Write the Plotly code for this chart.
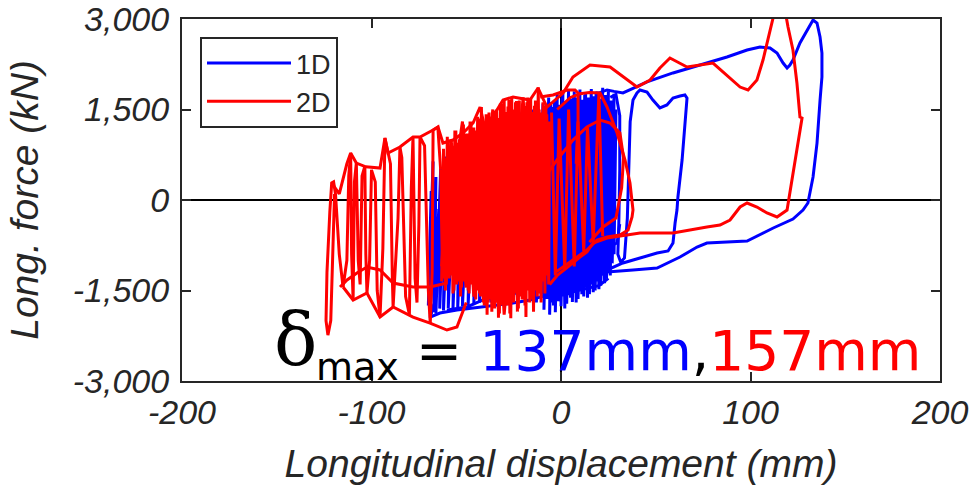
import plotly.graph_objects as go

# Longitudinal force vs. longitudinal displacement of the bearing (mm, kN)
# Each segment is a list of (displacement, force) samples along the response path.

# ---- 1D excitation ----
blue_core = [
    (-66, -1600), (-69, -1950), (-68.5, 150), (-70, -1750), (-67.5, 640), (-69, -1900),
    (-66, 380), (-67, -1860), (-64.5, -150), (-66, -1880), (-63.5, 520), (-64, -1800),
    (-61, 720), (-62, -1830), (-58.5, 900), (-59.5, -1790), (-56, 650), (-57, -1810),
    (-53.5, 1000), (-54.5, -1780), (-51, 820), (-52, -1760), (-48, 1100), (-49, -1740),
    (-45, 900), (-46, -1730), (-42, 1200), (-43, -1700), (-39, 1000), (-40, -1690),
    (-36, 1300), (-37, -1700), (-33, 1100), (-34, -1660), (-30, 1250), (-31, -1650),
    (-27, 1400), (-28, -1630), (-24, 1200), (-25, -1600), (-21, 1450), (-22, -1590),
    (-18, 1300), (-19, -1610), (-15, 1500), (-16, -1560), (-12, 1400), (-13, -1700),
    (-9.5, 1600), (-10.5, -1570), (-8, 1480), (-9, -1820), (-6.5, 1700), (-7.5, -1640),
    (-5, 1540), (-6, -1900), (-3.5, 1650), (-4.5, -1700), (-2, 1760), (-3, -1860),
    (-0.5, 1580), (-1.5, -1680), (1, 1790), (0, -1760), (2.5, 1640), (1.5, -1600),
    (4, 1820), (3, -1720), (5.5, 1680), (4.5, -1580), (7, 1800), (6, -1690),
    (8.5, 1700), (7.5, -1540), (10, 1830), (9, -1640), (11.5, 1660), (10.5, -1500),
    (13, 1780), (12, -1600), (14.5, 1700), (13.5, -1450), (16, 1840), (15, -1560),
    (17.5, 1720), (16.5, -1400), (19, 1800), (18, -1500), (20.5, 1680), (19.5, -1350),
    (22, 1860), (21, -1420), (23.5, 1740), (22.5, -1250), (25, 1800), (24, -1300),
    (26.5, 1650), (25.5, -1150), (28, 1760), (27, -1050), (29, 1500), (28, -900),
]
blue_core_back = [
    (27.5, 1600), (26, -1250), (24.5, 1720), (23, -1380), (21.5, 1640), (20, -1480),
    (18.5, 1760), (17, -1530), (15.5, 1620), (14, -1620), (12.5, 1740), (11, -1560),
    (9.5, 1600), (8, -1700), (6.5, 1720), (5, -1620), (3.5, 1560), (2, -1800),
    (0.5, 1700), (-1, -1650), (-2.5, 1500), (-4, -1750), (-5.5, 1620), (-7, -1600),
    (-8.5, 1400),
]
blue_cross = [
    (-8, -900), (2, 1200), (6, -1300), (14, 1500), (18, -1100), (24, 1300),
    (26, -700), (20, 900), (12, -1200), (4, 1000), (-2, -1400), (-6, 800),
]
blue_lower_1 = [
    (-69, -1940), (-63.9, -1873), (-54.9, -1824), (-46.4, -1790), (-33.8, -1741),
    (-25.3, -1708), (-16.4, -1658), (-7.4, -1575), (10, -1492), (20, -1420), (25, -1300),
]
blue_lower_2 = [
    (-60.2, -1823), (-49.6, -1773), (-41.2, -1657), (-32.2, -1607), (-23.2, -1541),
    (-14.8, -1375), (-5.8, -1326), (-0.5, -1276), (6.3, -1110), (13.7, -994),
    (20.6, -829), (29.6, -713), (31, -400),
]
blue_loop_mid = [
    (26, 1700), (29, 1750), (31, 1400), (31, 500), (30.5, -400), (30, -900),
    (31.5, -1030), (33.5, -960), (35, -300), (35.7, 600), (36.5, 1300), (38, 1657),
    (40.1, 1773), (41.7, 1823), (45.4, 1790), (48.5, 1657), (52.2, 1525), (55.9, 1575),
    (59.1, 1690), (62.8, 1723), (65.4, 1740), (66.5, 1690), (65.4, 1210), (63.9, 663),
    (61.7, 50), (61.2, -166), (60.2, -381), (59.1, -713), (56.5, -845), (50.7, -879),
    (41.7, -961), (32.7, -1044), (24.3, -1160), (15.3, -1210), (5, -1350), (-5, -1500),
]
blue_loop_max = [
    (18, 1750), (22, 1790), (24.3, 1824), (28, 1800), (32.7, 1774), (38, 1850),
    (45.4, 1957), (59.1, 2106), (77, 2271), (87.6, 2370), (98.2, 2486), (105, 2536),
    (110.3, 2519), (114, 2436), (117.2, 2270), (119.3, 2187), (120.8, 2237),
    (122.4, 2320), (126.1, 2602), (129.8, 2817), (132.5, 2950), (133, 2983),
    (135.1, 2933), (136.7, 2701), (137.7, 2436), (137.7, 2038), (136.7, 1657),
    (135.1, 944), (133, 381), (130.3, -50), (127.7, -166), (122.4, -315), (112, -464),
    (98.2, -680), (77, -713), (71.8, -779), (62.8, -945), (50.7, -1127), (38, -1160),
    (24.3, -1193), (12, -1350), (0, -1500), (-10, -1600),
]

# ---- 2D excitation ----
red_core = [
    (-63, -1350), (-62, 850), (-61, -1500), (-60, 1050), (-59, -1300), (-58, 780),
    (-57, -1550), (-56, 1150), (-55, -1400), (-54, 950), (-53, -1600), (-52, 1250),
    (-51, -1350), (-50, 1100), (-49, -1500), (-48, 1300), (-47, -1400), (-46, 1200),
    (-45, -1650), (-44, 1380), (-43, -1550), (-42, 1540), (-41, -1700), (-40, 1250),
    (-39, -1900), (-38, 1450), (-37, -1650), (-36, 1350), (-35, -1800), (-34, 1500),
    (-33, -1950), (-32, 1600), (-31, -1750), (-30, 1660), (-29, -1600), (-28, 1550),
    (-27, -1880), (-26, 1700), (-25, -1700), (-24, 1620), (-23, -1850), (-22, 1650),
    (-21, -1600), (-20, 1500), (-19, -1750), (-18, 1620), (-17, -1500), (-16, 1680),
    (-15, -1650), (-14, 1560), (-13, -1450), (-12, 1870), (-11, -1550), (-10, 1450),
    (-9, -1350), (-8, 1560), (-7, -1250), (-6, 1300),
    (-6.5, -1400), (-7.5, 1420), (-8.5, -1550), (-9.5, 1620), (-10.5, -1700),
    (-11.5, 1500), (-12.5, -1600), (-13.5, 1650), (-14.5, -1850), (-15.5, 1460),
    (-16.5, -1700), (-17.5, 1700), (-18.5, -1940), (-19.5, 1560), (-20.5, -1650),
    (-21.5, 1420), (-22.5, -1800), (-23.5, 1640), (-24.5, -1550), (-25.5, 1500),
    (-26.5, -1960), (-27.5, 1660), (-28.5, -1750), (-29.5, 1460), (-30.5, -1650),
    (-31.5, 1600), (-32.5, -1880), (-33.5, 1360), (-34.5, -1600), (-35.5, 1480),
    (-36.5, -1850), (-37.5, 1300), (-38.5, -1700), (-39.5, 1420), (-40.5, -1750),
    (-41.5, 1260), (-42.5, -1600), (-43.5, 1350), (-44.5, -1500), (-45.5, 1150),
    (-46.5, -1350), (-47.5, 1300), (-48.5, -1550), (-49.5, 1100), (-50.5, -1300),
    (-51.5, 1250), (-52.5, -1450), (-53.5, 1000), (-54.5, -1350), (-55.5, 1150),
    (-56.5, -1500), (-57.5, 900), (-58.5, -1250), (-59.5, 1000), (-60.5, -1400),
    (-61.5, 700), (-62.5, -1300), (-63.5, 500),
]
red_core_cross = [
    (-62, -900), (-52, 1300), (-46, -1600), (-36, 1500), (-30, -1900), (-20, 1700),
    (-14, -1500), (-8, 1100), (-16, -1200), (-26, 1450), (-34, -1700), (-42, 1350),
    (-50, -1450), (-58, 1000), (-63, -1100),
]
red_left = [
    (-63.5, 500), (-65, 1210), (-67.5, 1160), (-68, -1200), (-69, -2040), (-70, -1500),
    (-72, 900), (-74.4, 1044), (-75, -400), (-76, -1700), (-77, -1300), (-78.1, 1044),
    (-79, 200), (-80, -1900), (-82, -1600), (-84, 700), (-85, 878), (-86, -300),
    (-88.6, -1774), (-89, -1300), (-90, 600), (-91.3, 779), (-92.9, 1027), (-94, -800),
    (-95.5, -1940), (-97, -1500), (-98, 300), (-100, 500), (-101, -1000), (-102.4, -1542),
    (-103, -900), (-103.5, 560), (-105, 400), (-106, -1400), (-107, -1000), (-108, 613),
    (-109, 300), (-109.7, -1658), (-110.5, -900), (-111, 779), (-112, 400), (-113, -1000),
    (-115, -1442), (-117, -900), (-119, 100), (-120, 300), (-121, 282), (-122, -200),
    (-123.5, -1200), (-124, -2000), (-123, -2240), (-121.5, -2000), (-120.5, -1000),
    (-119.5, 100),
]
red_wave_1 = [
    (-116.6, -1442), (-112.9, -1326), (-107.7, -1210), (-102.4, -1111), (-95.5, -1160),
    (-88.6, -1376), (-78.1, -1442), (-69.1, -1442), (-60.2, -1376),
]
red_wave_2 = [
    (-115, -1442), (-109.7, -1658), (-102.4, -1542), (-95.5, -1940), (-88.6, -1774),
    (-78.1, -1940), (-69.1, -2040), (-60.2, -2155), (-54.9, -2106), (-50, -1700),
]
red_loop_max = [
    (-121, 282), (-117, 100), (-113, 600), (-111, 779), (-108, 613), (-103, 550),
    (-95.5, 530), (-92.9, 1027), (-91.3, 779), (-85, 878), (-78.1, 1044), (-74.4, 1044),
    (-67.5, 1160), (-64.9, 1210), (-62.3, 944), (-57, 994), (-51.7, 1110), (-46.4, 1276),
    (-42.7, 1541), (-39, 1044), (-37.5, 1326), (-33.8, 1491), (-30.6, 1657),
    (-25.3, 1707), (-16.4, 1657), (-12.1, 1856), (-7.4, 1541), (1.1, 1773), (6.3, 2038),
    (15.3, 2237), (25.9, 2204), (32.7, 2038), (40.1, 1872), (47, 1988), (52.2, 2187),
    (57.5, 2353), (66.5, 2204), (80.2, 2270), (87.6, 2071), (94.5, 1872), (98.7, 1823),
    (103.4, 1988), (106.6, 2320), (110.3, 2817), (112.9, 3148), (116, 3300),
    (118.2, 3148), (119.8, 2866), (122.4, 2486), (124.5, 1939), (126.1, 1375),
    (127.2, 1359), (125.1, 944), (122.4, 381), (119.3, -166), (114, -282), (108.7, -215),
    (103.4, -116), (98.2, -50), (94.5, -116), (89.2, -331), (83.9, -414), (77, -447),
    (59.1, -547), (41.7, -547), (24.3, -630), (16.9, -713), (13.7, -862), (10, -945),
    (4, -1100), (-2, -1250), (-6, -1400),
]
red_arc_1 = [
    (-2, 1500), (5, 1700), (10, 1760), (15, 1780), (20.6, 1773), (24.3, 1541),
    (29.6, 1110), (33.8, 663), (36.4, 282), (38, -166), (37.5, -282), (35.4, -497),
    (31.1, -580), (24.3, -613), (19, -663), (13.7, -829), (10, -911), (4, -1050),
    (-3, -1200),
]
red_arc_2 = [
    (-8, 400), (-2.1, 663), (6.3, 994), (13.7, 1210), (20.6, 1326), (25.9, 1276),
    (31.1, 1110), (33, 700), (32, 200), (29, -300), (22, -450), (15, -700),
]
red_cap = [
    (-11, 1707), (-4.2, 1740), (3.2, 1823), (7.4, 1823), (9, 1773), (9, 1326),
    (8, 600),
]
red_spikes = [
    (-5, 1450), (-3, -1250), (-1, 1350), (2, -1150), (4, 1500), (7, -1100),
    (9, 1300), (12, -850), (14, 1200), (17, -700), (20, 1770), (22, -600),
]

# Axis ticks
x_ticks = [-200, -100, 0, 100, 200]
x_tick_text = ["-200", "-100", "0", "100", "200"]
y_ticks = [-3000, -1500, 0, 1500, 3000]
y_tick_text = ["-3,000", "-1,500", "0", "1,500", "3,000"]

BLUE = "#0000ff"
RED = "#ff0000"
AXIS = "#262626"


def join(*segments):
    xs, ys = [], []
    for seg in segments:
        for x, f in seg:
            xs.append(x)
            ys.append(f)
        xs.append(None)
        ys.append(None)
    return xs, ys


bx, by = join(blue_core, blue_core_back, blue_cross, blue_lower_1, blue_lower_2,
              blue_loop_mid, blue_loop_max)
rx, ry = join(red_core, red_core_cross, red_left, red_wave_1, red_wave_2,
              red_loop_max, red_arc_1, red_arc_2, red_cap, red_spikes)

fig = go.Figure()
fig.add_trace(go.Scatter(x=bx, y=by, mode="lines", name="1D",
                         line=dict(color=BLUE, width=3), connectgaps=False))
fig.add_trace(go.Scatter(x=rx, y=ry, mode="lines", name="2D",
                         line=dict(color=RED, width=3), connectgaps=False))

tick_font = dict(family="Liberation Sans, Arial, sans-serif", size=34,
                 color=AXIS, style="italic")
title_font = dict(family="Liberation Sans, Arial, sans-serif", size=39,
                  color=AXIS, style="italic")

axis_common = dict(
    showline=True, linewidth=2, linecolor=AXIS, mirror="ticks",
    ticks="inside", ticklen=9, tickwidth=2, tickcolor=AXIS,
    showgrid=False, zeroline=True, zerolinecolor="black", zerolinewidth=1.5,
    tickfont=tick_font, fixedrange=True, ticklabeloverflow="allow",
    automargin=False,
)

fig.update_xaxes(range=[-200, 200], tickvals=x_ticks, ticktext=x_tick_text,
                 title=dict(text="Longitudinal displacement (mm)", font=title_font,
                            standoff=20),
                 **axis_common)
fig.update_yaxes(range=[-3000, 3000], tickvals=y_ticks, ticktext=y_tick_text,
                 ticklabelstandoff=4,
                 title=dict(text="Long. force (kN)", font=title_font, standoff=22),
                 **axis_common)

PW, PH = 758, 362  # plot area size in px


def px_x(p):
    return (p - 182) / PW


def px_y(p):
    return (381 - p) / PH


fig.add_annotation(xref="paper", yref="paper", x=px_x(272), y=px_y(384),
                   xanchor="left", yanchor="bottom", showarrow=False,
                   text="δ", font=dict(family="DejaVu Serif, serif", size=72,
                                       color="black"))
fig.add_annotation(xref="paper", yref="paper", x=px_x(314), y=px_y(391),
                   xanchor="left", yanchor="bottom", showarrow=False,
                   text="max", font=dict(family="DejaVu Sans", size=38, color="black"))
fig.add_annotation(xref="paper", yref="paper", x=px_x(414), y=px_y(385),
                   xanchor="left", yanchor="bottom", showarrow=False,
                   text=("= <span style='color:%s'>137mm</span>,"
                         "<span style='color:%s'>157mm</span>") % (BLUE, RED),
                   font=dict(family="DejaVu Sans", size=55, color="black"))

fig.update_layout(
    width=977, height=496,
    margin=dict(l=182, r=37, t=19, b=115),
    paper_bgcolor="white", plot_bgcolor="white",
    showlegend=True,
    legend=dict(x=px_x(200), y=px_y(37), xanchor="left", yanchor="top",
                bgcolor="white", bordercolor=AXIS, borderwidth=2,
                font=dict(family="Liberation Sans, Arial, sans-serif", size=27,
                          color=AXIS),
                itemwidth=84, tracegroupgap=0),
)

fig.write_html("out.html")
